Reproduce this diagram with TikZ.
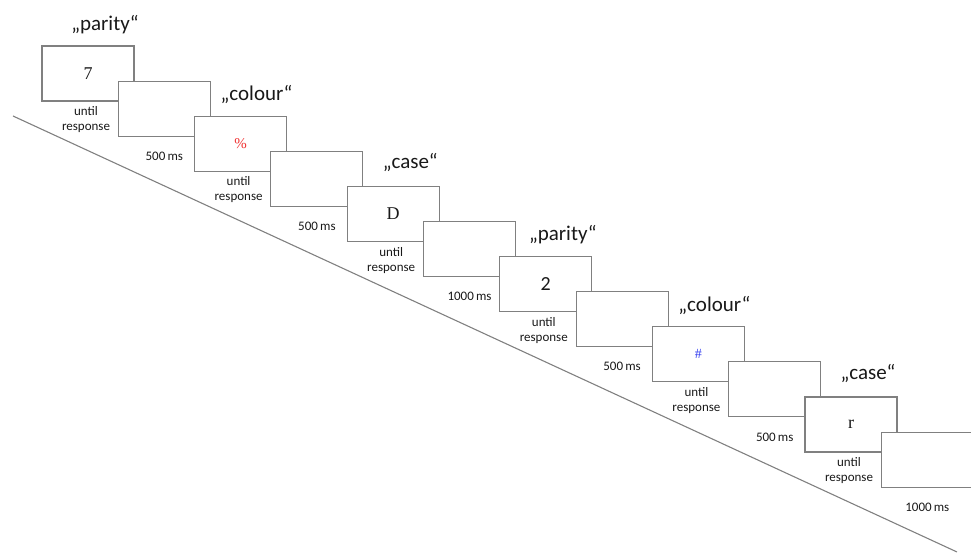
\documentclass[tikz,border=0pt]{standalone}
\usepackage{fontspec}
\setmainfont{Carlito}
\newfontfamily\stimfont{Liberation Serif}
\usepackage{xcolor}
\usetikzlibrary{calc,positioning}

\definecolor{frame}{RGB}{128,128,128}
\definecolor{ink}{RGB}{25,25,25}
\definecolor{stimred}{RGB}{240,50,50}
\definecolor{stimblue}{RGB}{50,60,240}

\begin{document}
\begin{tikzpicture}[x=1pt,y=1pt,
		trial/.style={draw=frame,line width=1.1pt,fill=white,minimum width=92pt,minimum height=55pt,inner sep=0pt,text=ink,font=\stimfont\fontsize{18}{18}\selectfont},
		timing/.style={text=ink,font=\fontsize{13}{15}\selectfont,align=center,inner sep=0pt},
		task/.style={text=ink,font=\fontsize{21}{21}\selectfont,inner sep=0pt}]
		\useasboundingbox (0,0) rectangle (971,553);
		
		\coordinate (start) at (13,437);
		\coordinate (stop) at (957,1);
		\draw[frame,line width=1.1pt] (start) -- (stop);
		
		\node[trial] (box1) at (88,479.5) {7};
		\node[trial] (box2) at (164.3,444.4) {};
		\node[trial] (box3) at (240.6,409.3) {\color{stimred}\fontsize{15}{15}\selectfont\%};
		\node[trial] (box4) at (316.9,374.2) {};
		\node[trial] (box5) at (393.2,339.1) {D};
		\node[trial] (box6) at (469.5,304.0) {};
		\node[trial] (box7) at (545.8,268.9) {\rmfamily\fontsize{20}{20}\selectfont 2};
		\node[trial] (box8) at (622.1,233.8) {};
		\node[trial] (box9) at (698.4,198.7) {\color{stimblue}\fontsize{14}{14}\selectfont\#};
		\node[trial] (box10) at (774.7,163.6) {};
		\node[trial] (box11) at (851.0,128.5) {r};
		\node[trial] (box12) at (927.3,93.4) {};
		
		\node[task] (task1) at ($(box1.north)+(17,21)$) {„parity“};
		\node[task] (task3) at ($(box3.north)+(16,21)$) {„colour“};
		\node[task] (task5) at ($(box5.north)+(17,23)$) {„case“};
		\node[task] (task7) at ($(box7.north)+(17,21)$) {„parity“};
		\node[task] (task9) at ($(box9.north)+(16,21)$) {„colour“};
		\node[task] (task11) at ($(box11.north)+(17,23)$) {„case“};
		
		\node[timing,below=5pt of box1,xshift=-2pt] (time1) {until\\response};
		\node[timing,below=15pt of box2] (time2) {500\,ms};
		\node[timing,below=5pt of box3,xshift=-2pt] (time3) {until\\response};
		\node[timing,below=15pt of box4] (time4) {500\,ms};
		\node[timing,below=5pt of box5,xshift=-2pt] (time5) {until\\response};
		\node[timing,below=15pt of box6] (time6) {1000\,ms};
		\node[timing,below=5pt of box7,xshift=-2pt] (time7) {until\\response};
		\node[timing,below=15pt of box8] (time8) {500\,ms};
		\node[timing,below=5pt of box9,xshift=-2pt] (time9) {until\\response};
		\node[timing,below=15pt of box10] (time10) {500\,ms};
		\node[timing,below=5pt of box11,xshift=-2pt] (time11) {until\\response};
		\node[timing,below=15pt of box12] (time12) {1000\,ms};
\end{tikzpicture}
\end{document}
